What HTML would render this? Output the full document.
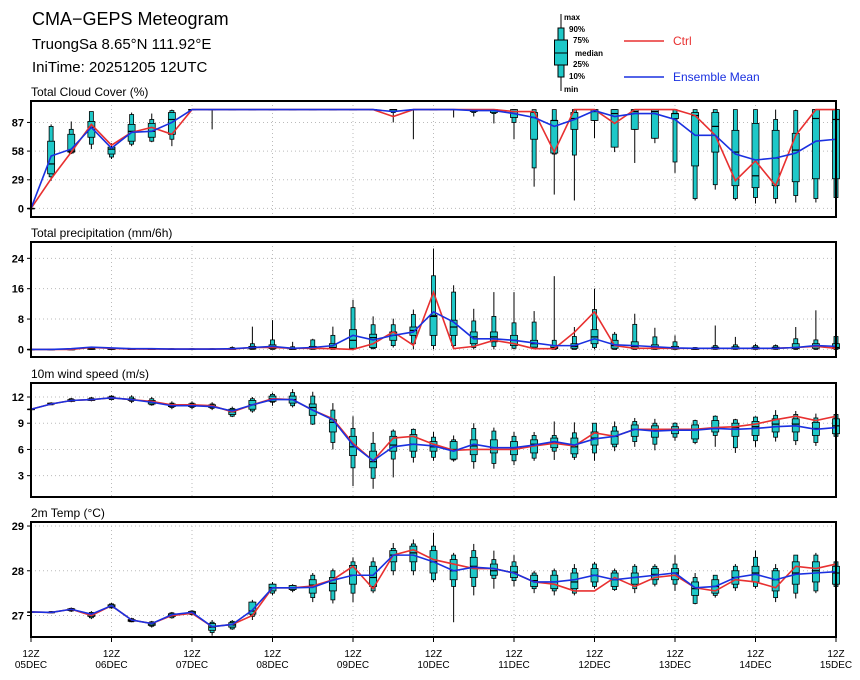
<!DOCTYPE html>
<html><head><meta charset="utf-8"><style>
body{margin:0;background:#fff;}
svg{display:block;font-family:"Liberation Sans",sans-serif;}
</style></head><body>
<svg id="chart" width="860" height="680" viewBox="0 0 860 680">
<rect width="860" height="680" fill="#fff"/>
<text x="32" y="25" font-size="18">CMA−GEPS Meteogram</text>
<text x="32" y="49" font-size="15">TruongSa 8.65°N 111.92°E</text>
<text x="32" y="72" font-size="15">IniTime: 20251205 12UTC</text>
<g font-size="8" font-weight="bold">
<line x1="561" y1="14" x2="561" y2="91" stroke="#000"/>
<rect x="558" y="28" width="6" height="49" fill="#1ec8c8" stroke="#000"/>
<rect x="554.5" y="40" width="13" height="25" fill="#1ec8c8" stroke="#000"/>
<line x1="554.5" y1="53" x2="567.5" y2="53" stroke="#000"/>
<text x="564" y="20">max</text><text x="569" y="32">90%</text><text x="573" y="43">75%</text>
<text x="575" y="56">median</text><text x="573" y="67">25%</text><text x="569" y="79">10%</text><text x="564" y="92">min</text>
<line x1="624" y1="41" x2="664" y2="41" stroke="#e83030" stroke-width="1.5"/>
<text x="673" y="45" font-size="12" font-weight="normal" fill="#e83030">Ctrl</text>
<line x1="624" y1="77" x2="664" y2="77" stroke="#1a30e0" stroke-width="1.5"/>
<text x="673" y="81" font-size="12" font-weight="normal" fill="#1a30e0">Ensemble Mean</text>
</g>
</svg>
<script>
const days = ["05DEC","06DEC","07DEC","08DEC","09DEC","10DEC","11DEC","12DEC","13DEC","14DEC","15DEC"];
// Cloud cover
const ccCtrl=[0,30,57,85,64,77,82,75,100,100,100,100,100,100,100,100,100,100,93,100,100,100,100,100,98,98,57,100,100,86,100,100,100,94,74,28,48,23,74,100,100];
const ccMean=[0,53,60,82,61,77,78,87,100,100,100,100,100,100,100,100,100,100,98,100,100,100,99,99,96,92,83,90,99,93,96,96,90,74,74,55,49,51,56,68,70];
const ccMin=[0,28,55,60,50,63,67,63,100,80,100,100,100,100,100,100,100,100,87,70,100,92,93,86,70,22,14,8,71,57,46,66,36,8,19,8,5,5,6,6,11];
const ccP10=[0,32,56,65,52,65,68,70,100,100,100,100,100,100,100,100,100,100,97,100,100,100,97,96,87,41,55,54,89,62,80,71,47,10,24,10,11,10,13,10,11];
const ccP25=[0,35,57,72,55,68,72,75,100,100,100,100,100,100,100,100,100,100,98,100,100,100,98,97,92,70,56,80,89,62,80,71,91,43,57,23,21,23,27,30,30];
const ccMed=[0,45,58,82,60,78,78,90,100,100,100,100,100,100,100,100,100,100,100,100,100,100,100,100,98,92,89,91,98,96,98,98,96,94,83,57,33,51,59,91,90];
const ccP75=[0,68,75,88,62,85,86,97,100,100,100,100,100,100,100,100,100,100,100,100,100,100,100,100,100,97,89,97,100,100,100,100,96,97,97,79,86,79,76,100,100];
const ccP90=[0,83,80,98,62,95,90,99,100,100,100,100,100,100,100,100,100,100,100,100,100,100,100,100,100,100,100,100,100,100,100,100,100,100,100,100,100,90,99,100,100];
const ccMax=[0,85,88,97,66,97,96,100,100,100,100,100,100,100,100,100,100,100,100,100,100,100,100,100,100,100,100,100,100,100,100,100,100,100,100,100,100,100,100,100,100];
// Precipitation
const prCtrl=[0,0,0,0.5,0.3,0.1,0.1,0.1,0.1,0.1,0.1,0.5,0.5,0.3,0.3,0.2,0,1.5,4.6,1.1,15.1,0.2,0.8,2.4,1.5,0.2,0.2,4.5,9.9,1,0.3,0.3,0.3,0.3,0.3,0.3,0.3,0.3,0.5,0.8,0.3];
const prMean=[0,0,0.2,0.6,0.4,0.2,0.2,0.1,0.1,0.1,0.2,0.5,0.8,0.3,0.5,1.0,3.7,2.5,3.7,4.6,9.9,7.2,2.8,2.8,2.4,1.7,1,1,2.8,1.2,1,0.7,0.4,0.3,0.3,0.3,0.3,0.3,0.5,1.0,0.8];
const prMin=[0,0,0,0,0,0,0,0,0,0,0,0,0,0,0,0,0,0,0.5,0,0,0,0,0,0,0,0,0,0,0,0,0,0,0,0,0,0,0,0,0,0];
const prP10=[0,0,0,0,0,0,0,0,0,0,0,0,0,0,0,0,0.1,0.2,1,1.5,1,1,0.5,0.8,0.3,0.2,0,0,0.5,0,0,0,0,0,0,0,0,0,0,0,0];
const prP25=[0,0,0,0,0,0,0,0,0,0,0,0.1,0.2,0,0.1,0.2,0.3,0.5,2.4,3.7,3.7,3.7,1.5,2,1,0.6,0.2,0.3,1.5,0.3,0.2,0.1,0.1,0,0.1,0.1,0.1,0.1,0.2,0.3,0.2];
const prMed=[0,0,0,0.2,0.1,0,0,0,0,0,0.1,0.3,0.5,0.2,0.3,0.5,2.4,3.1,3.7,5,8.7,5.9,3.3,3.3,2.4,1.5,0.5,0.8,3.3,1,0.8,0.5,0.3,0.2,0.3,0.3,0.3,0.3,0.5,0.8,0.5];
const prP75=[0,0,0,0.4,0.3,0.1,0.1,0.1,0.1,0.1,0.3,0.8,1.2,0.4,0.8,1.5,5.2,4,4.6,5.9,9,7.7,4.6,4.6,3.7,2.4,1,1.5,5.2,2.4,2,1.2,0.8,0.3,0.6,0.7,0.6,0.6,1.5,1.5,1.5];
const prP90=[0,0,0,0.5,0.4,0.2,0.2,0.2,0.2,0.2,0.5,1.5,2.5,0.7,2.5,3.7,11,6.5,6.5,9.2,19.4,15.1,7.5,8.7,7,7.2,2.4,3.4,10.5,4,6.6,3.3,2,0.5,1,1.2,1,1,2.8,2.5,3.4];
const prMax=[0,0,0,0.6,0.5,0.3,0.3,0.3,0.3,0.3,0.8,6,7.7,2,2.8,6,13.1,8.7,8.1,10.5,26.6,16.9,10.7,15.1,15.1,10.1,19.3,5.9,16,4.6,9.4,5.7,3.7,0.6,6.3,3.3,1.5,1.3,5.9,10.3,3.5];
// Wind speed
const wsCtrl=[10.6,11.2,11.6,11.7,11.9,11.7,11.5,11.1,11.1,11.0,10.3,11.1,11.8,11.7,10.5,9.5,6.7,4.7,7.3,7.5,6.6,5.9,6.0,6.0,6.0,6.4,6.7,6.4,7.9,7.5,8.3,8.3,8.3,8.3,8.5,8.6,8.9,9.4,9.8,9.3,9.8];
const wsMean=[10.6,11.2,11.6,11.7,11.9,11.7,11.4,11.0,11.0,10.9,10.4,11.1,11.7,11.7,10.5,9.4,6.5,4.7,6.3,6.6,6.4,5.8,6.6,6.2,6.2,6.5,6.9,6.5,7.2,7.5,8.3,8.1,8.2,8.2,8.4,8.3,8.4,8.6,8.7,8.3,8.5];
const wsMin=[10.6,11.1,11.4,11.5,11.6,11.3,11.0,10.6,10.6,10.5,9.7,10.2,11.0,10.8,8.8,6.0,1.8,1.5,2.8,4.5,4.7,4.6,3.8,3.8,4.2,4.7,4.8,4.8,4.7,5.8,6.3,5.9,7.0,6.6,6.3,5.6,6.3,6.9,6.5,6.4,7.4];
const wsP10=[10.6,11.1,11.5,11.6,11.7,11.5,11.1,10.8,10.8,10.7,9.8,10.4,11.4,11.0,8.9,6.8,3.9,2.7,4.9,5.1,5.1,4.8,4.6,4.4,4.7,5.0,5.8,5.1,5.6,6.3,6.9,6.6,7.4,6.8,7.6,6.2,7.0,7.4,7.0,6.8,7.5];
const wsP25=[10.6,11.2,11.5,11.6,11.8,11.6,11.2,10.9,10.9,10.8,10.0,10.6,11.5,11.3,9.9,8.0,5.3,3.9,5.8,5.8,5.8,4.9,5.4,5.6,5.4,5.6,6.2,5.5,6.5,6.6,7.5,7.4,7.8,7.2,8.0,7.5,7.6,8.0,8.0,7.6,7.8];
const wsMed=[10.6,11.2,11.6,11.7,11.9,11.7,11.4,11.0,11.0,10.9,10.3,11.1,11.8,11.7,10.8,9.1,6.3,4.6,6.5,6.6,6.3,6.0,6.4,6.2,6.1,6.6,6.8,6.3,7.3,7.5,8.3,8.2,8.3,8.3,8.5,8.5,8.6,8.9,8.9,8.4,8.7];
const wsP75=[10.6,11.3,11.7,11.8,12.0,11.8,11.6,11.2,11.2,11.1,10.6,11.6,12.1,12.1,11.2,9.4,7.5,5.8,7.5,7.7,6.9,6.9,7.1,7.1,6.9,7.1,7.3,7.3,8.0,8.1,8.8,8.7,8.6,8.8,9.3,9.0,9.2,9.5,9.5,9.1,9.5];
const wsP90=[10.6,11.3,11.8,11.9,12.1,12.0,11.8,11.3,11.3,11.2,10.7,11.8,12.3,12.5,12.1,10.5,8.4,6.7,8.1,8.3,7.4,7.1,8.4,8.1,7.5,7.6,7.6,7.9,9.0,8.6,9.2,9.0,9.0,9.3,9.8,9.4,9.7,9.9,10.0,9.6,10.0];
const wsMax=[10.6,11.4,11.9,12.0,12.2,12.2,12.0,11.5,11.5,11.4,10.9,12.0,12.5,12.9,12.6,11.3,9.8,8.0,8.3,8.4,8.0,7.6,9.0,8.5,8.0,8.0,9.2,9.1,9.0,9.2,9.6,9.5,9.1,9.4,9.9,9.5,9.8,10.5,10.4,10.1,10.3];
// 2m temperature
const tCtrl=[27.08,27.07,27.14,27.0,27.22,26.9,26.82,27.0,27.05,26.75,26.8,27.0,27.62,27.62,27.66,27.8,28.1,27.6,28.35,28.47,28.25,28.15,28.05,28.05,27.95,27.75,27.7,27.55,27.55,27.85,27.65,27.85,27.9,27.62,27.55,27.8,27.75,27.62,28.1,28.05,28.15];
const tMean=[27.08,27.07,27.14,27.03,27.22,26.9,26.82,27.02,27.07,26.75,26.8,27.12,27.62,27.62,27.63,27.79,27.9,27.9,28.35,28.35,28.2,28.0,28.08,28.05,27.95,27.75,27.75,27.8,27.9,27.8,27.85,27.9,27.95,27.62,27.65,27.85,27.92,27.8,27.92,27.95,27.98];
const tMin=[27.08,27.05,27.08,26.92,27.15,26.85,26.73,26.93,27.0,26.55,26.68,26.9,27.45,27.52,27.3,27.27,27.3,27.5,27.9,27.9,27.75,26.85,27.45,27.6,27.65,27.5,27.45,27.45,27.6,27.55,27.5,27.65,27.55,27.25,27.4,27.55,27.6,27.3,27.38,27.5,27.6];
const tP10=[27.08,27.06,27.1,26.95,27.17,26.86,26.76,26.95,27.02,26.62,26.7,26.98,27.5,27.56,27.4,27.35,27.5,27.55,28.0,28.0,27.8,27.65,27.65,27.83,27.78,27.6,27.55,27.5,27.65,27.58,27.6,27.7,27.7,27.27,27.45,27.62,27.65,27.4,27.5,27.55,27.65];
const tP25=[27.08,27.06,27.11,26.98,27.19,26.87,26.78,26.98,27.03,26.67,26.74,27.03,27.55,27.58,27.5,27.55,27.7,27.65,28.2,28.2,27.95,27.8,27.85,27.9,27.85,27.65,27.6,27.6,27.75,27.65,27.7,27.8,27.8,27.45,27.5,27.7,27.75,27.55,27.7,27.75,27.7];
const tMed=[27.08,27.07,27.13,27.01,27.21,26.89,26.81,27.01,27.06,26.74,26.79,27.1,27.62,27.62,27.68,27.72,27.9,27.85,28.35,28.4,28.2,28.0,28.1,28.0,27.97,27.78,27.75,27.75,27.9,27.8,27.85,27.92,27.95,27.6,27.65,27.85,27.95,27.8,27.95,28.0,27.95];
const tP75=[27.08,27.08,27.15,27.05,27.24,26.91,26.84,27.04,27.09,26.82,26.84,27.3,27.7,27.67,27.8,27.85,28.12,28.1,28.45,28.55,28.45,28.25,28.3,28.15,28.1,27.9,27.9,27.95,28.05,27.95,27.95,28.05,28.05,27.75,27.8,28.0,28.1,28.0,28.2,28.2,28.1];
const tP90=[27.08,27.09,27.16,27.07,27.26,26.93,26.86,27.06,27.1,26.85,26.87,27.3,27.7,27.67,27.9,28.0,28.2,28.2,28.5,28.6,28.55,28.35,28.45,28.25,28.2,27.95,28.0,28.05,28.15,28.0,28.1,28.1,28.15,27.85,27.9,28.1,28.3,28.05,28.35,28.35,28.2];
const tMax=[27.08,27.1,27.18,27.1,27.28,26.95,26.88,27.08,27.12,26.9,26.9,27.35,27.75,27.7,27.95,28.05,28.3,28.3,28.62,28.7,28.85,28.4,28.6,28.45,28.35,28.0,28.05,28.15,28.2,28.05,28.15,28.15,28.35,27.95,27.9,28.15,28.45,28.15,28.35,28.4,28.25];
const ccTicks=[0,29,58,87], prTicks=[0,8,16,24], wsTicks=[3,6,9,12], tTicks=[27,28,29];

const NS="http://www.w3.org/2000/svg";
const svg=document.getElementById("chart");
const X0=31,X1=836,N=41;
const xs=i=>X0+(X1-X0)*i/(N-1);
function mk(tag,attrs,parent){const e=document.createElementNS(NS,tag);for(const k in attrs)e.setAttribute(k,attrs[k]);(parent||svg).appendChild(e);return e;}
function panel(key,title,top,bot,vmin,vmax,ticks,s){
  const g=mk("g",{});
  
  
  const ys=v=>bot-(v-vmin)/(vmax-vmin)*(bot-top);
  const t=mk("text",{x:31,y:top-5,"font-size":12},g);t.textContent=title;
  
  
  for(let d=1;d<10;d++){const x=xs(d*4);mk("line",{x1:x,x2:x,y1:top,y2:bot,stroke:"#bbb","stroke-dasharray":"1,3"},g);}
  ticks.forEach(tv=>{const y=ys(tv);mk("line",{x1:X0,x2:X1,y1:y,y2:y,stroke:"#bbb","stroke-dasharray":"1,3"},g);
    mk("line",{x1:X0-4,x2:X0,y1:y,y2:y,stroke:"#000"},g);
    const tl=mk("text",{x:X0-7,y:y+4,"font-size":11,"text-anchor":"end","font-weight":"bold"},g);tl.textContent=tv;
    
    });
  for(let i=0;i<N;i++){
    const x=xs(i);
    const b=mk("g",{},g);
    
    
    mk("line",{x1:x,x2:x,y1:ys(s.max[i]),y2:ys(s.min[i]),stroke:"#000"},b);
    mk("rect",{x:x-2,y:ys(s.p90[i]),width:4,height:Math.max(0.5,ys(s.p10[i])-ys(s.p90[i])),fill:"#1ec8c8",stroke:"#000","stroke-width":0.8},b);
    mk("rect",{x:x-3.5,y:ys(s.p75[i]),width:7,height:Math.max(0.5,ys(s.p25[i])-ys(s.p75[i])),fill:"#1ec8c8",stroke:"#000","stroke-width":0.8},b);
    mk("line",{x1:x-3.5,x2:x+3.5,y1:ys(s.med[i]),y2:ys(s.med[i]),stroke:"#000","stroke-width":1.2},b);
  }
  const cl=mk("polyline",{points:s.ctrl.map((v,i)=>xs(i)+","+ys(v)).join(" "),fill:"none",stroke:"#e83030","stroke-width":1.6},g);
  
  
  const ml=mk("polyline",{points:s.mean.map((v,i)=>xs(i)+","+ys(v)).join(" "),fill:"none",stroke:"#1a30e0","stroke-width":1.6},g);
  
  
  mk("rect",{x:X0,y:top,width:X1-X0,height:bot-top,fill:"none",stroke:"#000","stroke-width":2},g);
}
panel("cloud","Total Cloud Cover (%)",101,217,-8.7,108.7,ccTicks,{ctrl:ccCtrl,mean:ccMean,min:ccMin,p10:ccP10,p25:ccP25,med:ccMed,p75:ccP75,p90:ccP90,max:ccMax});
panel("precip","Total precipitation (mm/6h)",242,357,-2,28.3,prTicks,{ctrl:prCtrl,mean:prMean,min:prMin,p10:prP10,p25:prP25,med:prMed,p75:prP75,p90:prP90,max:prMax});
panel("wind","10m wind speed (m/s)",383,497,0.56,13.6,wsTicks,{ctrl:wsCtrl,mean:wsMean,min:wsMin,p10:wsP10,p25:wsP25,med:wsMed,p75:wsP75,p90:wsP90,max:wsMax});
panel("temp","2m Temp (°C)",522,637,26.52,29.09,tTicks,{ctrl:tCtrl,mean:tMean,min:tMin,p10:tP10,p25:tP25,med:tMed,p75:tP75,p90:tP90,max:tMax});
days.forEach((d,k)=>{const x=xs(k*4);
  mk("line",{x1:x,x2:x,y1:637,y2:642,stroke:"#000"});
  const a=mk("text",{x:x,y:657,"font-size":10,"text-anchor":"middle"});a.textContent="12Z";
  
  
  const b=mk("text",{x:x,y:668,"font-size":10,"text-anchor":"middle"});b.textContent=d;
  
  
});
</script>
</body></html>
